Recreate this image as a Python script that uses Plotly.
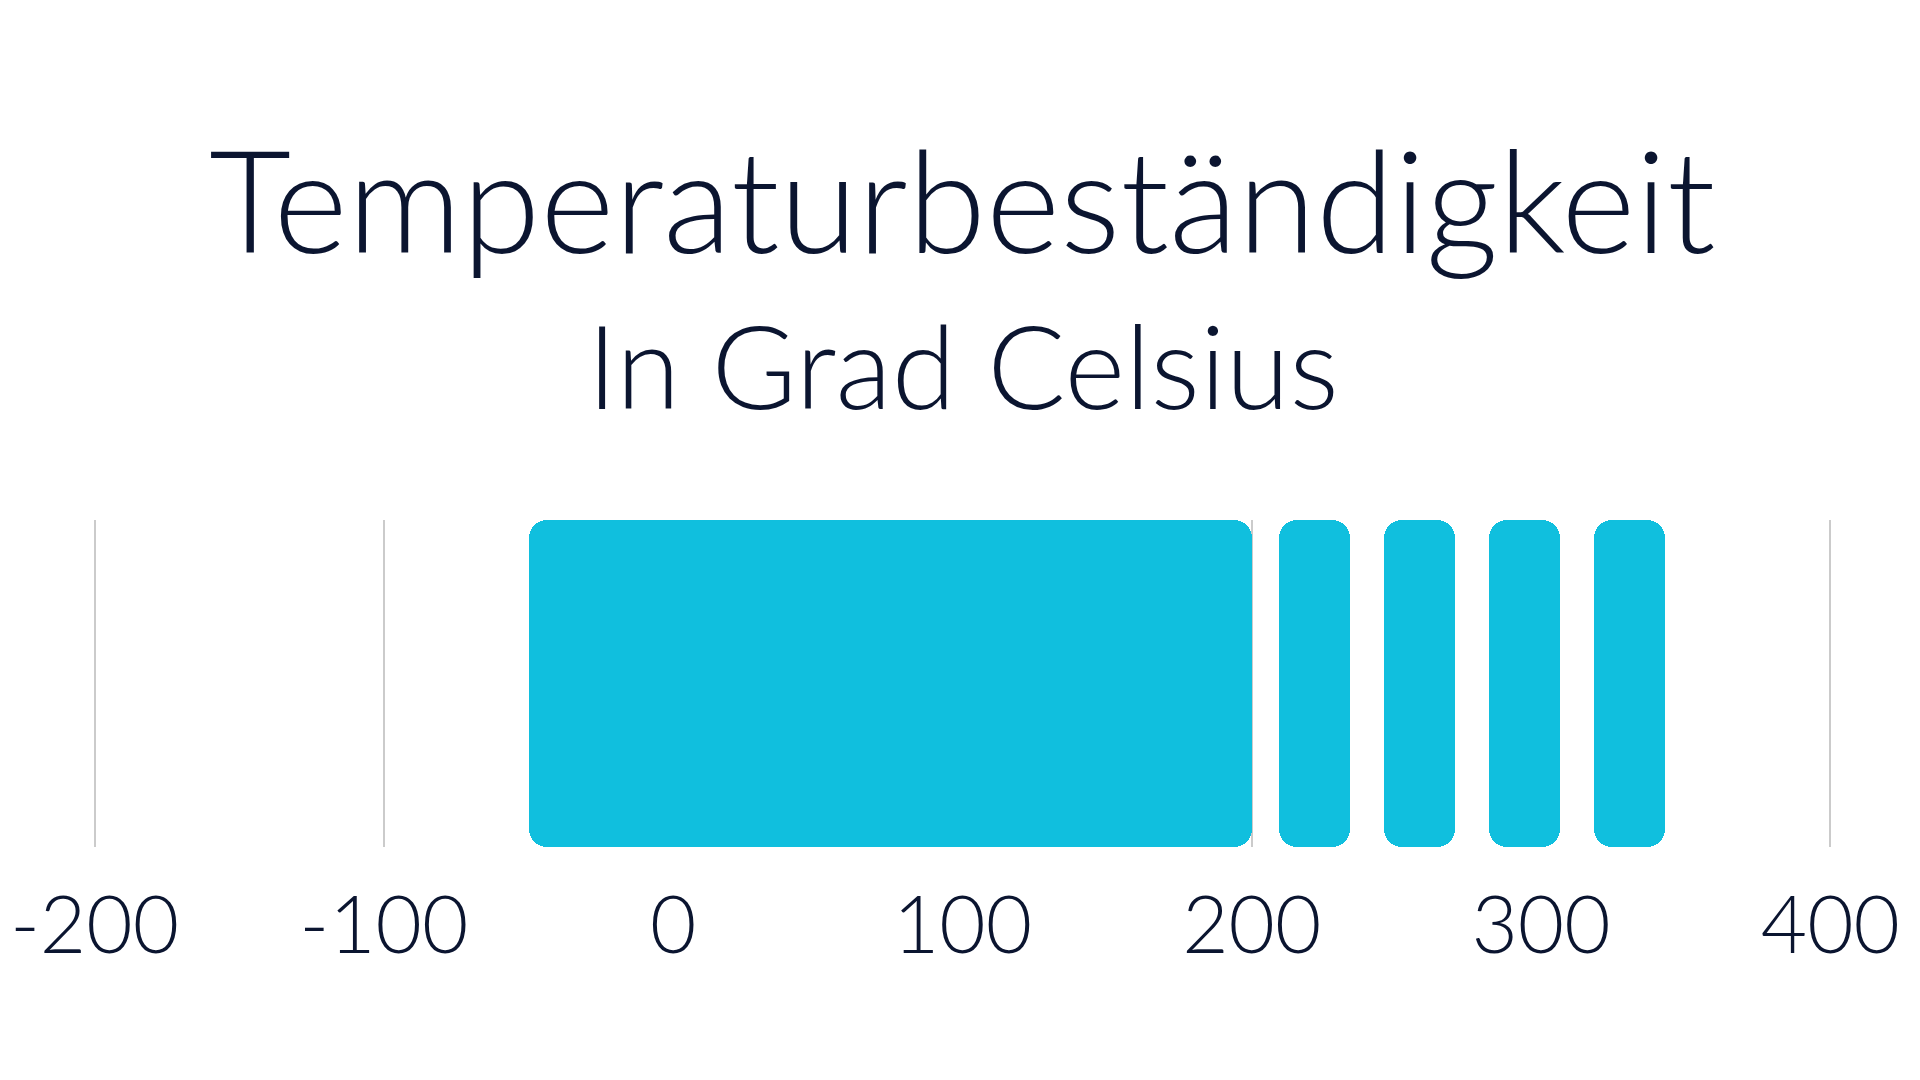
import plotly.graph_objects as go

category = ["Temperaturbeständigkeit"]
range_starts = [-50, 209.5, 245.8, 282.1, 318.4]
range_ends = [200, 234, 270.3, 306.6, 343]
tick_values = [-200, -100, 0, 100, 200, 300, 400]
tick_labels = ["-200", "-100", "0", "100", "200", "300", "400"]

title_text = "Temperaturbeständigkeit"
subtitle_text = "In Grad Celsius"

BAR_COLOR = "#10BFDE"
TEXT_COLOR = "#0B1530"
FONT = "Lato"

cats = category * len(range_starts)

fig = go.Figure()
fig.add_trace(go.Bar(
    y=cats, base=range_starts,
    x=[e - s for s, e in zip(range_starts, range_ends)],
    orientation="h", marker=dict(color=BAR_COLOR, line=dict(width=0)),
    hoverinfo="skip", showlegend=False))

fig.update_layout(
    width=1920, height=1080,
    paper_bgcolor="white", plot_bgcolor="white",
    barmode="overlay", bargap=0, barcornerradius=18,
    margin=dict(l=78, r=89, t=512, b=241, autoexpand=False),
    font=dict(family=FONT, color=TEXT_COLOR),
    xaxis=dict(range=[-203, 403], tickmode="array", tickvals=tick_values,
               ticktext=tick_labels, showgrid=True, gridcolor="#cbcbcb",
               gridwidth=2, zeroline=False, showline=False, automargin=False,
               tickfont=dict(family=FONT, size=80, color=TEXT_COLOR, weight=300),
               ticks="", ticklabelstandoff=25, fixedrange=True),
    yaxis=dict(visible=False, fixedrange=True, automargin=False),
    annotations=[
        dict(text=title_text, xref="paper", yref="paper", x=0.5, y=1.985,
             xanchor="center", yanchor="middle", showarrow=False,
             font=dict(family=FONT, size=142, color=TEXT_COLOR, weight=300)),
        dict(text=subtitle_text, xref="paper", yref="paper", x=0.5, y=1.476,
             xanchor="center", yanchor="middle", showarrow=False,
             font=dict(family=FONT, size=116, color=TEXT_COLOR, weight=300)),
    ],
)

fig.write_html("out.html", config={"displayModeBar": False})
